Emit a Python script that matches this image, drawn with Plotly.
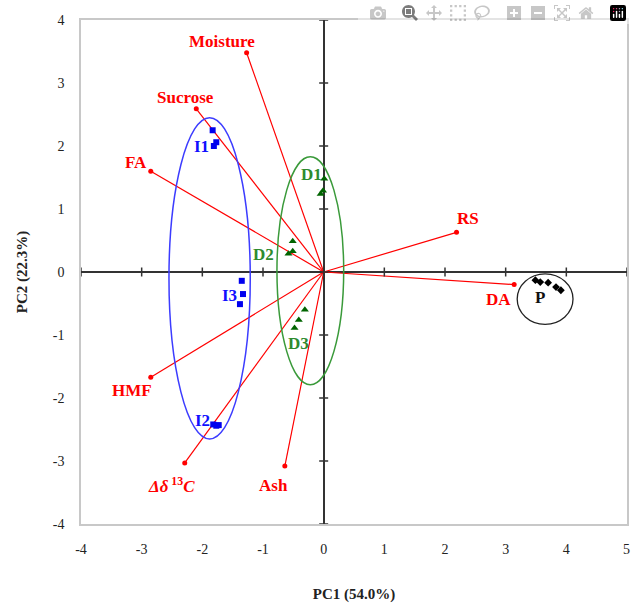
import plotly.graph_objects as go

# Loadings (variables)
var_names = ["Moisture", "Sucrose", "FA", "RS", "DA", "HMF",
             "<i>Δδ</i><sup> 13</sup><i>C</i>", "Ash"]
var_pc1 = [-1.27, -2.10, -2.85, 2.19, 3.14, -2.85, -2.29, -0.64]
var_pc2 = [3.48, 2.59, 1.60, 0.63, -0.20, -1.67, -3.03, -3.08]
var_label_dx = [-25, -11, -15, 11, -16, -19, -13, -11]
var_label_dy = [11, 11, 9, 14, -15, -13, -22, -19]

# Scores (samples)
i1_pc1 = [-1.83, -1.77, -1.81]
i1_pc2 = [2.25, 2.06, 2.00]
i2_pc1 = [-1.82, -1.77, -1.73]
i2_pc2 = [-2.42, -2.44, -2.43]
i3_pc1 = [-1.35, -1.33, -1.38]
i3_pc2 = [-0.14, -0.35, -0.51]
d1_pc1 = [0.01, -0.01, -0.05]
d1_pc2 = [1.48, 1.29, 1.24]
d2_pc1 = [-0.51, -0.51, -0.58]
d2_pc2 = [0.49, 0.33, 0.29]
d3_pc1 = [-0.31, -0.41, -0.48]
d3_pc2 = [-0.60, -0.76, -0.89]
p_pc1 = [3.49, 3.57, 3.70, 3.83, 3.91]
p_pc2 = [-0.13, -0.16, -0.17, -0.24, -0.29]

group_labels = ["I1", "I2", "I3", "D1", "D2", "D3", "P"]
group_label_x = [-2.02, -2.0, -1.55, -0.2, -1.0, -0.41, 3.57]
group_label_y = [2.0, -2.35, -0.38, 1.54, 0.27, -1.13, -0.41]

x_ticks = list(range(-4, 6))
y_ticks = list(range(-4, 5))
x_ticktext = [str(t) for t in x_ticks]
y_ticktext = [str(t) for t in y_ticks]

RED = "#ff0000"
BLUE = "#1010ff"
GREEN = "#2e8b2e"
FONT = "Liberation Serif"

fig = go.Figure()

# loading vectors
lx, ly = [], []
for x, y in zip(var_pc1, var_pc2):
    lx += [0, x, None]
    ly += [0, y, None]
fig.add_trace(go.Scatter(x=lx, y=ly, mode="lines",
                         line=dict(color=RED, width=1.2), hoverinfo="skip"))
fig.add_trace(go.Scatter(x=var_pc1, y=var_pc2, mode="markers",
                         marker=dict(color=RED, size=5)))

# scores
fig.add_trace(go.Scatter(x=i1_pc1 + i2_pc1 + i3_pc1, y=i1_pc2 + i2_pc2 + i3_pc2,
                         mode="markers",
                         marker=dict(symbol="square", color="#0000ee", size=6)))
fig.add_trace(go.Scatter(x=d1_pc1 + d2_pc1 + d3_pc1, y=d1_pc2 + d2_pc2 + d3_pc2,
                         mode="markers",
                         marker=dict(symbol="triangle-up", color="#006400", size=7)))
fig.add_trace(go.Scatter(x=p_pc1, y=p_pc2, mode="markers",
                         marker=dict(symbol="diamond", color="black", size=6)))

# confidence ellipses
fig.add_shape(type="circle", xref="x", yref="y", x0=-2.55, x1=-1.21, y0=-2.65, y1=2.45,
              line=dict(color="#3c3cff", width=1.5))
fig.add_shape(type="circle", xref="x", yref="y", x0=-0.77, x1=0.33, y0=-1.79, y1=1.83,
              line=dict(color="#3a9a3a", width=1.5))
fig.add_shape(type="circle", xref="x", yref="y", x0=3.19, x1=4.11, y0=-0.83, y1=-0.03,
              line=dict(color="#222222", width=1.3))

# crossing tick marks on the zero lines
for t in x_ticks:
    fig.add_shape(type="line", xref="x", yref="y", ysizemode="pixel", yanchor=0,
                  x0=t, x1=t, y0=-4.5, y1=4.5, line=dict(color="#333333", width=1.5))
for t in y_ticks:
    fig.add_shape(type="line", xref="x", yref="y", xsizemode="pixel", xanchor=0,
                  x0=-4.5, x1=4.5, y0=t, y1=t, line=dict(color="#333333", width=1.5))

# variable labels
for name, x, y, dx, dy in zip(var_names, var_pc1, var_pc2, var_label_dx, var_label_dy):
    fig.add_annotation(x=x, y=y, text=name, showarrow=False, xshift=dx, yshift=dy,
                       font=dict(family=FONT, size=17, color=RED, weight="bold"))

group_colors = [BLUE, BLUE, BLUE, GREEN, GREEN, GREEN, "#111111"]
for name, x, y, c in zip(group_labels, group_label_x, group_label_y, group_colors):
    fig.add_annotation(x=x, y=y, text=name, showarrow=False,
                       font=dict(family=FONT, size=17, color=c, weight="bold"))

# last x tick label (at the very right edge, plotly would hide it)
fig.add_annotation(x=x_ticks[-1], y=0, xref="x", yref="paper", text=x_ticktext[-1],
                   showarrow=False, yanchor="middle", yshift=-25, xshift=-1,
                   font=dict(family=FONT, size=14, color="#222222"))

fig.update_xaxes(range=[-4, 5], tickvals=x_ticks[:-1], ticktext=x_ticktext[:-1],
                 showgrid=False,
                 zeroline=True, zerolinecolor="#333333", zerolinewidth=1.5,
                 showline=True, mirror=True, linecolor="#c8c8c8", linewidth=1.5,
                 ticks="", ticklabelstandoff=11, automargin=False,
                 tickfont=dict(family=FONT, size=14, color="#222222"),
                 title=dict(text="<b>PC1 (54.0%)</b>", standoff=33,
                            font=dict(family=FONT, size=15, color="#222222")))
fig.update_yaxes(range=[-4, 4], tickvals=y_ticks, ticktext=y_ticktext, showgrid=False,
                 zeroline=True, zerolinecolor="#333333", zerolinewidth=1.5,
                 showline=True, mirror=True, linecolor="#c8c8c8", linewidth=1.5,
                 ticks="", ticklabelstandoff=12, automargin=False,
                 tickfont=dict(family=FONT, size=14, color="#222222"),
                 title=dict(text="<b>PC2 (22.3%)</b>", standoff=22,
                            font=dict(family=FONT, size=15, color="#222222")))

fig.update_layout(width=632, height=604, showlegend=False,
                  paper_bgcolor="white", plot_bgcolor="white",
                  margin=dict(l=81, r=5, t=20, b=80, autoexpand=False))

fig.write_html("out.html",
               post_script="document.body.style.margin='0';"
                           "document.documentElement.style.overflow='hidden';")
